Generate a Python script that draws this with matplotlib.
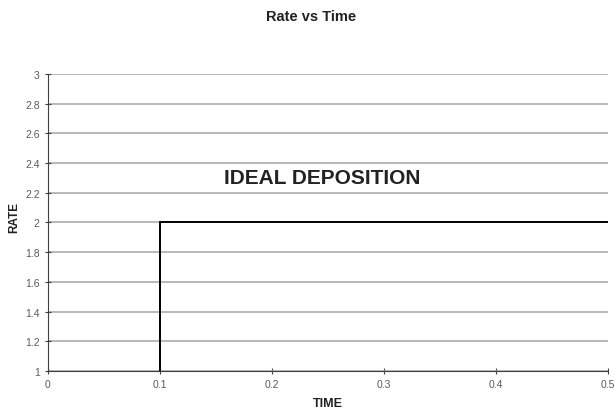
import matplotlib
matplotlib.use("Agg")
import matplotlib.pyplot as plt

# Ideal deposition profile: rate steps from 1 to 2 at t = 0.1
time = [0.1, 0.1, 0.5]
rate = [1.0, 2.0, 2.0]
x_ticks = [0, 0.1, 0.2, 0.3, 0.4, 0.5]
y_ticks = [1, 1.2, 1.4, 1.6, 1.8, 2, 2.2, 2.4, 2.6, 2.8, 3]

plt.rcParams['font.family'] = ['Liberation Sans', 'DejaVu Sans']

fig = plt.figure(figsize=(6.15, 4.1), dpi=100)
ax = fig.add_axes([0.078, 0.093, 0.911, 0.724])

ax.plot(time, rate, color='black', lw=1.4, solid_joinstyle='miter')

ax.set_xlim(0, 0.5)
ax.set_ylim(1, 3)
ax.set_xticks(x_ticks)
ax.set_xticklabels([f"{t:g}" for t in x_ticks])
ax.set_yticks(y_ticks)
ax.set_yticklabels([f"{v:g}" for v in y_ticks])
ax.grid(axis='y', color='#a6a6a6', lw=1.1)
ax.set_axisbelow(True)

for s in ['top', 'right']:
    ax.spines[s].set_visible(False)
ax.spines['left'].set_color('#404040')
ax.spines['bottom'].set_color('#404040')
ax.tick_params(direction='inout', length=4, width=0.8, color='#404040',
               labelsize=7.5, labelcolor='#5a5a5a', pad=4)

ax.set_xlabel('TIME', fontsize=9, fontweight='bold', color='#222222')
ax.set_ylabel('RATE', fontsize=8.5, fontweight='bold', color='#222222')
ax.xaxis.set_label_coords(0.5, -0.088)
ax.yaxis.set_label_coords(-0.05, 0.52)
fig.suptitle('Rate vs Time', fontsize=10.5, fontweight='bold', y=0.975,
             x=0.506, color='#222222')

ax.text(0.245, 2.30, 'IDEAL DEPOSITION', fontsize=15, fontweight='bold',
        ha='center', va='center', color='#222222')

fig.savefig('out.png', dpi=100)
